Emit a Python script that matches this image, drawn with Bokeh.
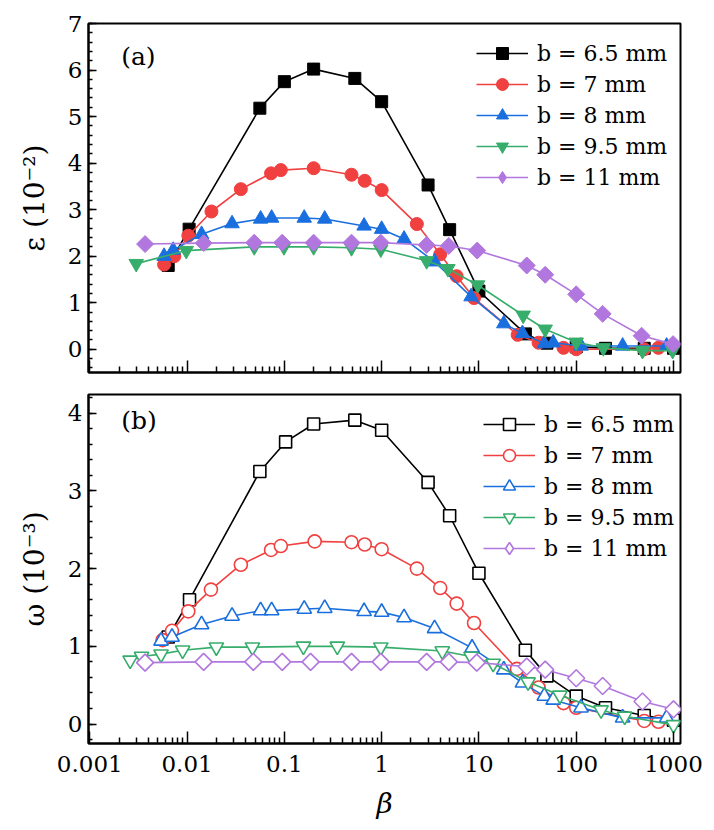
import math
from bokeh.plotting import figure
from bokeh.layouts import column
from bokeh.models import (FixedTicker, CustomJSTickFormatter, Legend, LegendItem,
                          Label, Range1d, CustomLabelingPolicy)
from bokeh.embed import file_html
from bokeh.resources import INLINE

FONT = "DejaVu Serif"

series_labels = ["b = 6.5 mm", "b = 7 mm", "b = 8 mm", "b = 9.5 mm", "b = 11 mm"]
colors = ["#000000", "#F14040", "#1A6FDF", "#37AD6B", "#B177DE"]

# ---------------- panel (a): epsilon (10^-2) ----------------
a_x_65 = [0.0064, 0.0105, 0.056, 0.1, 0.2, 0.53, 1.0, 3.0, 5.0, 10, 30, 50, 100, 200, 500, 1000]
a_y_65 = [1.8, 2.58, 5.18, 5.75, 6.02, 5.82, 5.32, 3.53, 2.57, 1.25, 0.33, 0.13, 0.05, 0.02, 0.02, 0.02]
a_x_7 = [0.0058, 0.0074, 0.0103, 0.0178, 0.0357, 0.073, 0.092, 0.2, 0.49, 0.67, 1.0, 2.3, 4.0, 5.9, 8.9, 25, 41, 74, 100, 500, 700]
a_y_7 = [1.82, 2.0, 2.44, 2.96, 3.44, 3.78, 3.85, 3.89, 3.75, 3.62, 3.42, 2.69, 2.04, 1.57, 1.1, 0.31, 0.14, 0.03, 0.0, 0.0, 0.03]
a_x_8 = [0.0058, 0.0072, 0.0141, 0.029, 0.057, 0.074, 0.16, 0.26, 0.66, 1.0, 1.7, 3.5, 8.3, 18, 28, 47, 58, 112, 300, 850]
a_y_8 = [2.0, 2.13, 2.47, 2.7, 2.8, 2.82, 2.82, 2.8, 2.65, 2.58, 2.37, 1.88, 1.13, 0.55, 0.34, 0.12, 0.14, 0.07, 0.07, 0.07]
a_x_95 = [0.003, 0.0098, 0.049, 0.099, 0.2, 0.49, 0.98, 2.9, 4.8, 9.7, 28.5, 48, 100, 190, 480, 980]
a_y_95 = [1.84, 2.12, 2.2, 2.2, 2.2, 2.18, 2.15, 1.9, 1.73, 1.38, 0.73, 0.43, 0.15, 0.03, -0.03, -0.03]
a_x_11 = [0.0037, 0.0148, 0.049, 0.095, 0.2, 0.49, 0.98, 2.9, 4.9, 9.6, 31, 48, 100, 187, 470, 990]
a_y_11 = [2.26, 2.28, 2.29, 2.29, 2.29, 2.29, 2.29, 2.24, 2.22, 2.12, 1.8, 1.6, 1.18, 0.76, 0.29, 0.11]

# ---------------- panel (b): omega (10^-3) ----------------
b_x_65 = [0.0064, 0.0106, 0.056, 0.103, 0.2, 0.53, 1.0, 3.0, 5.0, 10, 30, 50, 100, 200, 500, 1000]
b_y_65 = [1.12, 1.6, 3.25, 3.63, 3.86, 3.91, 3.78, 3.11, 2.68, 1.94, 0.95, 0.62, 0.36, 0.21, 0.11, 0.05]
b_x_7 = [0.0056, 0.007, 0.0103, 0.0176, 0.0357, 0.073, 0.092, 0.205, 0.49, 0.67, 1.0, 2.3, 4.0, 5.9, 8.9, 24.6, 41, 74, 100, 500, 700]
b_y_7 = [1.08, 1.2, 1.45, 1.73, 2.05, 2.24, 2.29, 2.35, 2.34, 2.31, 2.25, 2.0, 1.75, 1.55, 1.3, 0.71, 0.47, 0.27, 0.21, 0.04, 0.03]
b_x_8 = [0.0054, 0.007, 0.0141, 0.029, 0.057, 0.074, 0.16, 0.26, 0.66, 1.0, 1.7, 3.5, 8.5, 18, 28, 47, 58, 112, 300, 850]
b_y_8 = [1.07, 1.12, 1.28, 1.39, 1.46, 1.46, 1.48, 1.49, 1.45, 1.44, 1.37, 1.23, 0.98, 0.7, 0.53, 0.36, 0.31, 0.21, 0.08, 0.08]
b_x_95 = [0.0026, 0.0034, 0.0054, 0.009, 0.02, 0.047, 0.157, 0.35, 0.98, 4.2, 8.3, 14, 32, 68, 180, 315, 1000]
b_y_95 = [0.82, 0.87, 0.9, 0.95, 0.99, 0.99, 1.0, 1.0, 0.99, 0.94, 0.87, 0.78, 0.54, 0.37, 0.18, 0.1, -0.01]
b_x_11 = [0.0037, 0.0148, 0.048, 0.095, 0.186, 0.49, 0.98, 2.9, 4.9, 9.5, 31, 48, 100, 187, 480, 1000]
b_y_11 = [0.79, 0.8, 0.8, 0.8, 0.8, 0.8, 0.8, 0.8, 0.8, 0.79, 0.74, 0.7, 0.59, 0.49, 0.29, 0.19]

x_major = [0.001, 0.01, 0.1, 1, 10, 100, 1000]
x_minor = [k * 10.0 ** d for d in range(-3, 4) for k in range(2, 10)]
x_lo, x_hi = 0.00097, 1180

# marker, angle, size ; the diamond is a square turned by 45 degrees
markers = [("square", 0, 12), ("circle", 0, 13), ("triangle", 0, 14.5),
           ("inverted_triangle", 0, 14.5), ("square", math.pi / 4, 12)]


def make_panel(xs, ys, filled, yr, yticks, yminor, ylabel, panel_label, label_y,
               show_xlabels, border_top, border_bottom, leg_loc):
    p = figure(frame_width=592, frame_height=349, x_axis_type="log",
               x_range=Range1d(x_lo, x_hi), y_range=Range1d(*yr),
               output_backend="svg", toolbar_location=None,
               min_border_left=88, min_border_right=26,
               min_border_top=border_top, min_border_bottom=border_bottom)
    p.xgrid.visible = False
    p.ygrid.visible = False
    p.outline_line_color = "black"
    p.outline_line_width = 2
    p.outline_line_alpha = 1.0
    p.background_fill_color = "white"
    p.border_fill_color = "white"

    xa = p.xaxis[0]
    xa.ticker = FixedTicker(ticks=x_major, minor_ticks=x_minor)
    xa.formatter = CustomJSTickFormatter(code="return tick.toString();")
    xa.major_tick_in = 12
    xa.major_tick_out = 0
    xa.minor_tick_in = 6
    xa.minor_tick_out = 0
    xa.axis_line_width = 2
    xa.axis_line_color = "black"
    xa.major_tick_line_width = 1.5
    xa.minor_tick_line_width = 1.5
    if show_xlabels:
        xa.major_label_text_font = FONT
        xa.major_label_text_font_size = "23px"
        xa.major_label_text_color = "black"
        xa.major_label_standoff = 12
        xa.axis_label = "β"
        xa.axis_label_text_font = FONT
        xa.axis_label_text_font_size = "28px"
        xa.axis_label_text_font_style = "italic"
        xa.axis_label_text_color = "black"
        xa.axis_label_standoff = 12
    else:
        xa.major_label_text_font_size = "1px"
        xa.major_label_standoff = 0
        xa.major_label_policy = CustomLabelingPolicy(code="return [];")

    ya = p.yaxis[0]
    ya.ticker = FixedTicker(ticks=yticks, minor_ticks=yminor)
    ya.major_tick_in = 8
    ya.major_tick_out = 0
    ya.minor_tick_in = 4
    ya.minor_tick_out = 0
    ya.axis_line_width = 2
    ya.axis_line_color = "black"
    ya.major_tick_line_width = 1.5
    ya.minor_tick_line_width = 1.5
    ya.major_label_text_font = FONT
    ya.major_label_text_font_size = "23px"
    ya.major_label_text_color = "black"
    ya.major_label_standoff = 6
    ya.axis_label = ylabel
    ya.axis_label_text_font = FONT
    ya.axis_label_text_font_size = "28px"
    ya.axis_label_text_font_style = "normal"
    ya.axis_label_text_color = "black"
    ya.axis_label_standoff = 14

    items = []
    for i in range(5):
        c = colors[i]
        mk, ang, sz = markers[i]
        fill = c if filled else "white"
        lw = 1 if filled else 1.6
        lr = p.line(xs[i], ys[i], line_color=c, line_width=1.6)
        sr = p.scatter(xs[i], ys[i], marker=mk, angle=ang, size=sz,
                       fill_color=fill, line_color=c, line_width=lw)
        if ang != 0:
            # legend sample only: the legend draws markers unrotated, so a
            # hidden diamond copy of the same series supplies the legend glyph
            dr = p.scatter(xs[i], ys[i], marker="diamond", size=sz,
                           fill_color=fill, line_color=c, line_width=lw,
                           visible=False)
            items.append(LegendItem(label=series_labels[i], renderers=[lr, dr]))
        else:
            items.append(LegendItem(label=series_labels[i], renderers=[lr, sr]))

    leg = Legend(items=items, location=leg_loc,
                 label_text_font=FONT, label_text_font_size="22px",
                 label_text_color="black",
                 glyph_width=52, glyph_height=30, spacing=1,
                 padding=0, margin=0, label_standoff=9,
                 border_line_alpha=0, background_fill_alpha=0,
                 inactive_fill_alpha=0)
    p.add_layout(leg)

    p.add_layout(Label(x=0.0021, y=label_y, text=panel_label, text_font=FONT,
                       text_font_size="25px", text_baseline="middle",
                       text_color="black"))
    return p


a_xs = [a_x_65, a_x_7, a_x_8, a_x_95, a_x_11]
a_ys = [a_y_65, a_y_7, a_y_8, a_y_95, a_y_11]
b_xs = [b_x_65, b_x_7, b_x_8, b_x_95, b_x_11]
b_ys = [b_y_65, b_y_7, b_y_8, b_y_95, b_y_11]

top_ticks = [0, 1, 2, 3, 4, 5, 6, 7]
top_minor = [round(-0.4 + 0.2 * i, 2) for i in range(38)]
bot_ticks = [0, 1, 2, 3, 4]
bot_minor = [round(-0.2 + 0.2 * i, 2) for i in range(23)]

p1 = make_panel(a_xs, a_ys, True, (-0.5, 7.0), top_ticks, top_minor,
                "ε (10⁻²)", "(a)", 6.3, False, 23, 6, (388, 180))
p2 = make_panel(b_xs, b_ys, False, (-0.25, 4.24), bot_ticks, bot_minor,
                "ω (10⁻³)", "(b)", 3.9, True, 16, 78, (395, 180))

layout = column(p1, p2, spacing=0)
open("out.html", "w").write(file_html(layout, INLINE))
